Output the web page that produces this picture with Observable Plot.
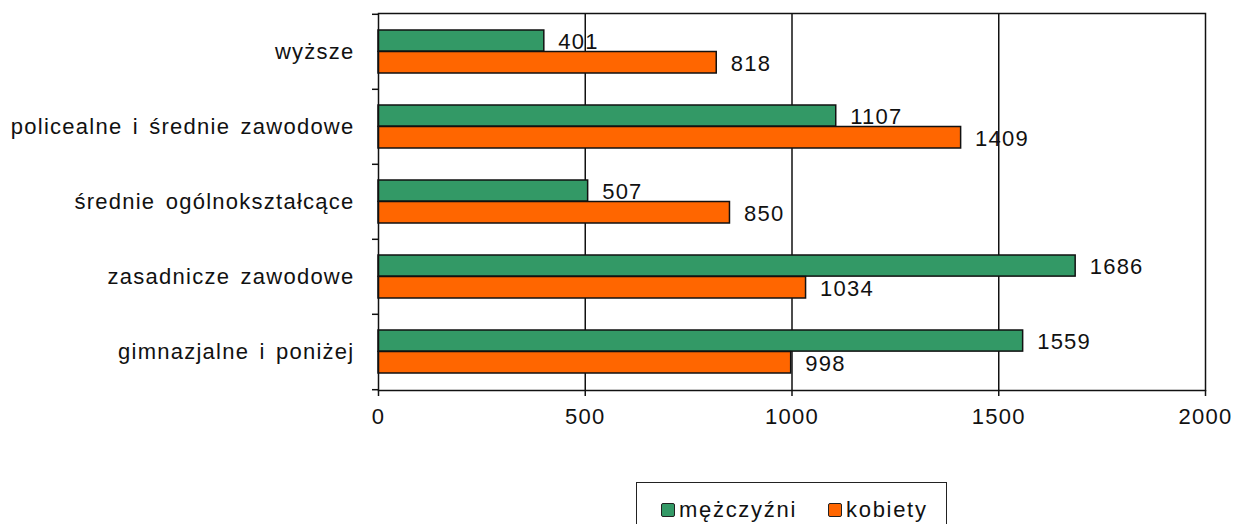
<!DOCTYPE html>
<html>
<head>
<meta charset="utf-8">
<script src="https://cdn.jsdelivr.net/npm/d3@7"></script>
<script src="https://cdn.jsdelivr.net/npm/@observablehq/plot@0.6"></script>
<style>
  html, body { margin: 0; padding: 0; background: #fff; }
  #wrap { position: relative; width: 1234px; height: 524px; overflow: hidden; font-family: "Liberation Sans", Arial, sans-serif; }
  #legend { position: absolute; left: 636px; top: 482px; width: 311px; height: 70px; border: 1.5px solid #222; box-sizing: border-box; font-size: 22px; letter-spacing: 1.7px; color: #111; }
  .item { position: absolute; top: 14px; display: flex; align-items: center; }
  .sw { width: 12px; height: 12px; border: 1.5px solid #222; margin-right: 4px; border-radius: 2px; }
</style>
</head>
<body>
<div id="wrap"><div id="chart"></div><div id="legend"></div></div>
<script>
const categories = ["wyższe", "policealne i średnie zawodowe", "średnie ogólnokształcące", "zasadnicze zawodowe", "gimnazjalne i poniżej"];
const series = ["mężczyźni", "kobiety"];
const men = [401, 1107, 507, 1686, 1559];
const women = [818, 1409, 850, 1034, 998];
const xTicks = [0, 500, 1000, 1500, 2000];
const colors = ["#339966", "#FF6600"];

const menData = categories.map((c, i) => ({category: c, value: men[i]}));
const womenData = categories.map((c, i) => ({category: c, value: women[i]}));

const marginTop = 13, marginBottom = 90, height = 480;
const step = (height - marginTop - marginBottom) / categories.length;
const padOuter = 16, barH = 21.5;

const font = "Liberation Sans, Arial, sans-serif";

const chart = Plot.plot({
  width: 1234,
  height,
  marginLeft: 378,
  marginRight: 29,
  marginTop,
  marginBottom,
  style: {fontFamily: font, fontSize: "22px", color: "#111", letterSpacing: "1.25px", wordSpacing: "3px"},
  x: {domain: [0, 2000], ticks: xTicks, label: null},
  y: {domain: categories, padding: 0, label: null},
  marks: [
    Plot.ruleX(xTicks.slice(1, -1), {stroke: "#111", strokeWidth: 1.5}),
    Plot.barX(menData, {y: "category", x: "value", fill: colors[0], stroke: "#111", strokeWidth: 1.5, insetTop: padOuter, insetBottom: step - padOuter - barH}),
    Plot.barX(womenData, {y: "category", x: "value", fill: colors[1], stroke: "#111", strokeWidth: 1.5, insetTop: padOuter + barH, insetBottom: padOuter}),
    Plot.text(menData, {y: "category", x: "value", text: d => String(d.value), dx: 14, dy: -10, textAnchor: "start", fill: "#111"}),
    Plot.text(womenData, {y: "category", x: "value", text: d => String(d.value), dx: 14, dy: 12, textAnchor: "start", fill: "#111"}),
    Plot.frame({stroke: "#111", strokeWidth: 1.5}),
    Plot.axisY({tickSize: 0, tickPadding: 24, label: null, fill: "#111"}),
    Plot.axisY({text: null, tickSize: 6, dy: -step / 2, stroke: "#111", strokeWidth: 1.5, label: null}),
    Plot.axisY({ticks: [categories[categories.length - 1]], text: null, tickSize: 6, dy: step / 2, stroke: "#111", strokeWidth: 1.5, label: null}),
    Plot.axisX({ticks: xTicks, tickFormat: d => String(d), tickSize: 6, tickPadding: 12, label: null, stroke: "#111", strokeWidth: 1.5, fill: "#111"})
  ]
});
document.getElementById("chart").appendChild(chart);

const legend = document.getElementById("legend");
const lefts = [24, 191];
series.forEach((s, i) => {
  const it = document.createElement("div");
  it.className = "item";
  it.style.left = lefts[i] + "px";
  const sw = document.createElement("div");
  sw.className = "sw";
  sw.style.background = colors[i];
  const t = document.createElement("span");
  t.textContent = s;
  it.appendChild(sw); it.appendChild(t);
  legend.appendChild(it);
});
</script>
</body>
</html>
